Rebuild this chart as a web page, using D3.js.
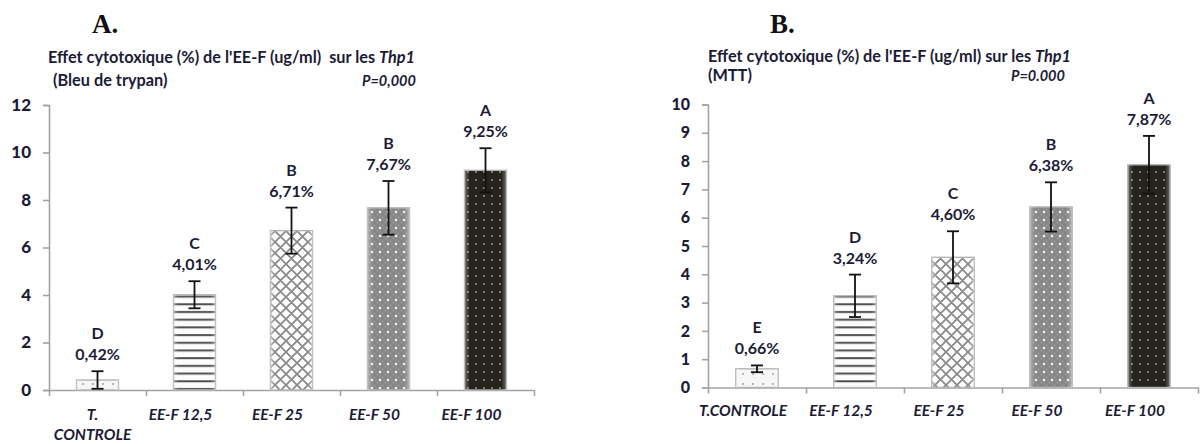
<!DOCTYPE html>
<html>
<head>
<meta charset="utf-8">
<script src="https://cdn.jsdelivr.net/npm/d3@7"></script>
<style>
  body { margin: 0; background: #fff; }
  svg { display: block; }
</style>
</head>
<body>
<svg id="chart" width="1200" height="444"></svg>
<script>
// Panel A: trypan blue assay
const categoriesA = ["T. CONTROLE", "EE-F 12,5", "EE-F 25", "EE-F 50", "EE-F 100"];
const valuesA = [0.42, 4.01, 6.71, 7.67, 9.25];
const errorsA = [0.37, 0.57, 0.97, 1.13, 0.93];
const groupsA = ["D", "C", "B", "B", "A"];
const yTicksA = [0, 2, 4, 6, 8, 10, 12];

// Panel B: MTT assay
const categoriesB = ["T.CONTROLE", "EE-F 12,5", "EE-F 25", "EE-F 50", "EE-F 100"];
const valuesB = [0.66, 3.24, 4.60, 6.38, 7.87];
const errorsB = [0.12, 0.75, 0.92, 0.87, 1.02];
const groupsB = ["E", "D", "C", "B", "A"];
const yTicksB = [0, 1, 2, 3, 4, 5, 6, 7, 8, 9, 10];

const FONT = "Lato, 'Open Sans', sans-serif";
const INK = "#1c1c36";
const AXIS = "#a3a3a3";
const barFills = ["url(#p-ctrl)", "url(#p-stripe)", "url(#p-cross)", "url(#p-grey)", "url(#p-dark)"];

const svg = d3.select("#chart");
const defs = svg.append("defs");

// ---- fill patterns for the five bars ----
function pattern(id, w, h) {
  return defs.append("pattern").attr("id", id)
    .attr("patternUnits", "userSpaceOnUse").attr("width", w).attr("height", h);
}
{
  const p = pattern("p-ctrl", 10, 10);
  p.append("rect").attr("width", 10).attr("height", 10).attr("fill", "#f6f6f6");
  p.append("circle").attr("cx", 3).attr("cy", 4).attr("r", 0.9).attr("fill", "#9a9a9a");
}
{
  const p = pattern("p-stripe", 8, 7.7);
  p.append("rect").attr("width", 8).attr("height", 7.7).attr("fill", "#fdfdfd");
  p.append("rect").attr("y", 3).attr("width", 8).attr("height", 2).attr("fill", "#4e4e4e");
}
{
  const p = pattern("p-cross", 11, 11);
  p.append("rect").attr("width", 11).attr("height", 11).attr("fill", "#ffffff");
  p.append("path").attr("d", "M0,0L11,11M11,0L0,11M-1,10L1,12M10,-1L12,1M10,12L12,10M-1,1L1,-1")
    .attr("stroke", "#8a8a8a").attr("stroke-width", 1.8);
}
{
  const p = pattern("p-grey", 8, 8);
  p.append("rect").attr("width", 8).attr("height", 8).attr("fill", "#8a8a8a");
  p.append("rect").attr("x", 1).attr("y", 1).attr("width", 1).attr("height", 1).attr("fill", "#6a6a6a");
  p.append("rect").attr("x", 6).attr("y", 6).attr("width", 1).attr("height", 1).attr("fill", "#6c6c6c");
  p.append("rect").attr("x", 1).attr("y", 6).attr("width", 1).attr("height", 1).attr("fill", "#a8a8a8");
  p.append("rect").attr("x", 6).attr("y", 1).attr("width", 1).attr("height", 1).attr("fill", "#a8a8a8");
  p.append("circle").attr("cx", 4).attr("cy", 4).attr("r", 1.3).attr("fill", "#ececec");
}
{
  const p = pattern("p-dark", 8, 8);
  p.append("rect").attr("width", 8).attr("height", 8).attr("fill", "#25231b");
  p.append("circle").attr("cx", 4).attr("cy", 4).attr("r", 1.1).attr("fill", "#8d8c84");
}
// soft bevel over each bar
{
  const g = defs.append("linearGradient").attr("id", "bevel").attr("x1", 0).attr("x2", 1);
  g.append("stop").attr("offset", 0).attr("stop-color", "#fff").attr("stop-opacity", 0.35);
  g.append("stop").attr("offset", 0.12).attr("stop-color", "#fff").attr("stop-opacity", 0);
  g.append("stop").attr("offset", 0.88).attr("stop-color", "#fff").attr("stop-opacity", 0);
  g.append("stop").attr("offset", 1).attr("stop-color", "#fff").attr("stop-opacity", 0.35);
}

const fmtPct = v => d3.format(".2f")(v).replace(".", ",") + "%";

function drawPanel(cfg) {
  const g = svg.append("g");
  const n = cfg.categories.length;

  const x = d3.scaleBand().domain(cfg.categories).range(cfg.xRange)
    .paddingInner(0.567).paddingOuter(0.2835);
  const edges = d3.scaleLinear().domain([0, n]).range(cfg.xRange);
  const y = d3.scaleLinear().domain([0, d3.max(cfg.ticks)]).range(cfg.yRange);

  // y axis
  const ya = g.append("g").attr("transform", `translate(${cfg.xRange[0]},0)`)
    .call(d3.axisLeft(y).tickValues(cfg.ticks).tickSize(6).tickSizeOuter(6).tickPadding(12).tickFormat(d3.format("d")));
  ya.selectAll("path,line").attr("stroke", AXIS).attr("stroke-width", 1.6);
  ya.selectAll("text").attr("font-family", FONT).attr("font-weight", 900)
    .attr("font-size", cfg.tickFont).attr("fill", INK);

  // x axis with ticks on category boundaries
  const xa = g.append("g").attr("transform", `translate(0,${cfg.yRange[0]})`)
    .call(d3.axisBottom(edges).ticks(n).tickSize(6).tickSizeOuter(0).tickFormat(""));
  xa.selectAll("path,line").attr("stroke", AXIS).attr("stroke-width", 1.6);

  const rows = cfg.categories.map((c, i) => ({
    c, v: cfg.values[i], e: cfg.errors[i], grp: cfg.groups[i], fill: barFills[i]
  }));
  const cx = d => x(d.c) + x.bandwidth() / 2;

  // bars
  g.selectAll("rect.bar").data(rows).join("rect").attr("class", "bar")
    .attr("x", d => x(d.c)).attr("width", x.bandwidth())
    .attr("y", d => y(d.v)).attr("height", d => y(0) - y(d.v))
    .attr("fill", d => d.fill).attr("stroke", "#b4b4b4").attr("stroke-width", 1.4);
  g.selectAll("rect.bevel").data(rows).join("rect").attr("class", "bevel")
    .attr("x", d => x(d.c)).attr("width", x.bandwidth())
    .attr("y", d => y(d.v)).attr("height", d => y(0) - y(d.v))
    .attr("fill", "url(#bevel)");

  // error bars
  const eb = g.selectAll("g.err").data(rows).join("g").attr("class", "err")
    .attr("stroke", "#111").attr("stroke-width", 1.8);
  eb.append("line").attr("x1", cx).attr("x2", cx)
    .attr("y1", d => y(d.v + d.e)).attr("y2", d => y(Math.max(0, d.v - d.e)));
  eb.append("line").attr("x1", d => cx(d) - 6).attr("x2", d => cx(d) + 6)
    .attr("y1", d => y(d.v + d.e)).attr("y2", d => y(d.v + d.e));
  eb.append("line").attr("x1", d => cx(d) - 6).attr("x2", d => cx(d) + 6)
    .attr("y1", d => y(Math.max(0, d.v - d.e))).attr("y2", d => y(Math.max(0, d.v - d.e)));

  // value and group letters above error bars
  const lab = g.selectAll("g.lab").data(rows).join("g").attr("class", "lab")
    .attr("font-family", FONT).attr("font-weight", 700).attr("font-size", 16)
    .attr("fill", INK).attr("text-anchor", "middle");
  lab.append("text").attr("x", cx).attr("y", d => y(d.v + d.e) - 11).text(d => fmtPct(d.v));
  lab.append("text").attr("x", cx).attr("y", d => y(d.v + d.e) - 32).text(d => d.grp);

  // category labels
  const xl = g.selectAll("text.cat").data(rows).join("text").attr("class", "cat")
    .attr("font-family", FONT).attr("font-weight", 700).attr("font-style", "italic")
    .attr("font-size", 15.5).attr("fill", INK).attr("text-anchor", "middle");
  xl.each(function (d) {
    const lines = cfg.wrapLabels && d.c.includes(". ") ? d.c.split(" ") : [d.c];
    const shift = lines.length > 1 ? -5 : -14;
    d3.select(this).selectAll("tspan").data(lines).join("tspan")
      .attr("x", cx(d) + shift)
      .attr("y", (l, k) => cfg.yRange[0] + cfg.labelGap + k * 20)
      .text(l => l);
  });

  // headings
  g.append("text").attr("x", cfg.letterX).attr("y", 33)
    .attr("font-family", "'Liberation Serif', 'DejaVu Serif', serif").attr("font-weight", 700)
    .attr("font-size", 27).attr("fill", "#111").text(cfg.letter);
  const t = g.append("text").attr("x", cfg.titleX).attr("y", cfg.titleY)
    .attr("font-family", FONT).attr("font-weight", 700).attr("font-size", 16.3).attr("fill", INK)
    .attr("xml:space", "preserve");
  t.append("tspan").text(cfg.title);
  t.append("tspan").attr("font-style", "italic").text("Thp1");
  g.append("text").attr("x", cfg.subX).attr("y", cfg.subY)
    .attr("font-family", FONT).attr("font-weight", 700).attr("font-size", 16.3).attr("fill", INK)
    .text(cfg.subtitle);
  g.append("text").attr("x", cfg.pX).attr("y", cfg.subY)
    .attr("font-family", FONT).attr("font-weight", 700).attr("font-style", "italic")
    .attr("font-size", 14.5).attr("fill", INK).text(cfg.pText);
}

drawPanel({
  categories: categoriesA, values: valuesA, errors: errorsA, groups: groupsA, ticks: yTicksA,
  xRange: [49, 534], yRange: [390, 105], tickFont: 17, wrapLabels: true, labelGap: 30,
  letter: "A.", letterX: 92,
  title: "Effet cytotoxique (%) de l'EE-F (ug/ml)  sur les ", titleX: 48, titleY: 63,
  subtitle: "(Bleu de trypan)", subX: 53, subY: 86, pText: "P=0,000", pX: 362
});

drawPanel({
  categories: categoriesB, values: valuesB, errors: errorsB, groups: groupsB, ticks: yTicksB,
  xRange: [708, 1198], yRange: [387.5, 104.5], tickFont: 16, wrapLabels: false, labelGap: 28,
  letter: "B.", letterX: 770,
  title: "Effet cytotoxique (%) de l'EE-F (ug/ml) sur les ", titleX: 708, titleY: 62,
  subtitle: "(MTT)", subX: 708, subY: 81, pText: "P=0.000", pX: 1011
});
</script>
</body>
</html>
